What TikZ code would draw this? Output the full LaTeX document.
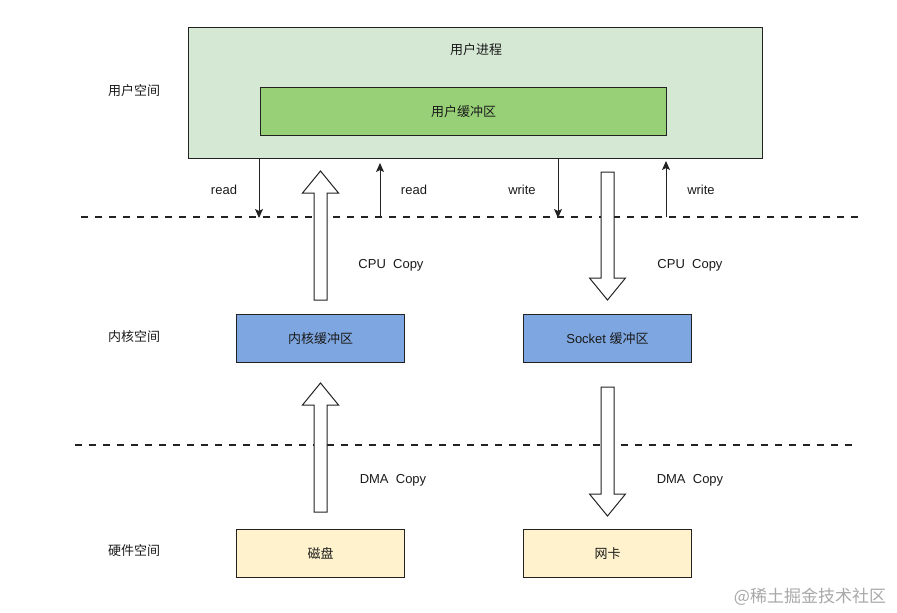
\documentclass[tikz,border=0pt]{standalone}
\usepackage{fontspec}
\setmainfont{Liberation Sans}
\newfontfamily\cjk{Noto Sans CJK SC}
\usetikzlibrary{calc,arrows.meta}
\definecolor{usrfill}{HTML}{D5E8D4}
\definecolor{bufgreen}{HTML}{97D077}
\definecolor{kblue}{HTML}{7EA6E0}
\definecolor{hwyellow}{HTML}{FFF2CC}
\definecolor{edge}{HTML}{222222}
\definecolor{txt}{HTML}{1A1A1A}
\definecolor{wmark}{HTML}{A8A8A8}
\newcommand{\blkarrow}[2]{%
  \draw[blockarr] let \p1=(#1), \p2=(#2), \n1={ifthenelse(\y2>\y1,1,-1)} in
  (\x1-6.5pt,\y1) -- (\x1-6.5pt,\y2-\n1*22pt) -- (\x1-18pt,\y2-\n1*22pt) -- (\x2,\y2)
  -- (\x1+18pt,\y2-\n1*22pt) -- (\x1+6.5pt,\y2-\n1*22pt) -- (\x1+6.5pt,\y1) -- cycle;}
\begin{document}
\begin{tikzpicture}[x=1pt,y=-1pt,
  font=\fontsize{13}{15}\selectfont, text=txt,
  box/.style={draw=edge, line width=1pt, inner sep=0pt, anchor=north west},
  lbl/.style={inner sep=0pt},
  sep/.style={line width=2pt, dash pattern=on 7pt off 7pt, draw=edge},
  thin/.style={line width=1pt, draw=edge, -{Stealth[length=9pt,width=8pt,inset=2pt]}},
  blockarr/.style={draw=edge, line width=1pt, fill=white, line join=miter}]
\useasboundingbox (0,0) rectangle (897,613);

% boxes
\node[box, fill=usrfill, minimum width=574pt, minimum height=131pt] (user) at (188,27) {};
\node[lbl] (usertitle) at (476,50) {\cjk 用户进程};
\node[box, fill=bufgreen, minimum width=406pt, minimum height=48pt] (ubuf) at (260,87) {};
\node[lbl] at (ubuf.center) {\cjk 用户缓冲区};

\node[box, fill=kblue, minimum width=168pt, minimum height=48pt] (kbuf) at (236,314) {};
\node[lbl] at (kbuf.center) {\cjk 内核缓冲区};
\node[box, fill=kblue, minimum width=168pt, minimum height=48pt] (sbuf) at (523,314) {};
\node[lbl] at (sbuf.center) {Socket {\cjk 缓冲区}};

\node[box, fill=hwyellow, minimum width=168pt, minimum height=48pt] (disk) at (236,529) {};
\node[lbl] at (disk.center) {\cjk 磁盘};
\node[box, fill=hwyellow, minimum width=168pt, minimum height=48pt] (nic) at (523,529) {};
\node[lbl] at (nic.center) {\cjk 网卡};

% space labels
\node[lbl] (lu) at (134,91) {\cjk 用户空间};
\node[lbl] (lk) at (134,337) {\cjk 内核空间};
\node[lbl] (lh) at (134,551) {\cjk 硬件空间};

% dashed separators
\coordinate (d1a) at (81,217);
\coordinate (d1b) at (858,217);
\coordinate (d2a) at (75,445);
\coordinate (d2b) at (852,445);
\draw[sep] (d1a) -- (d1b);
\draw[sep] (d2a) -- (d2b);

% thin arrows
\coordinate (r1) at (259,218);
\coordinate (r2) at (380,217);
\coordinate (w1) at (558,218);
\coordinate (w2) at (666,217);
\draw[thin] (user.south -| r1) -- (r1);
\draw[thin] (r2) -- ($(user.south -| r2)+(0,4)$);
\draw[thin] (user.south -| w1) -- (w1);
\draw[thin] (w2) -- ($(user.south -| w2)+(0,2)$);
\node[lbl] at (224,190) {read};
\node[lbl] at (414,190) {read};
\node[lbl] at (522,190) {write};
\node[lbl] at (701,190) {write};

% block arrows
\coordinate (a1b) at ($(kbuf.north)+(0,-14)$);
\coordinate (a1t) at ($(user.south -| kbuf.north)+(0,12)$);
\coordinate (a2t) at ($(user.south -| sbuf.north)+(0,13)$);
\coordinate (a2b) at ($(sbuf.north)+(0,-14)$);
\coordinate (a3b) at ($(disk.north)+(0,-17)$);
\coordinate (a3t) at ($(kbuf.south)+(0,20)$);
\coordinate (a4t) at ($(sbuf.south)+(0,24)$);
\coordinate (a4b) at ($(nic.north)+(0,-13)$);
\blkarrow{a1b}{a1t}
\blkarrow{a2t}{a2b}
\blkarrow{a3b}{a3t}
\blkarrow{a4t}{a4b}
\node[lbl] at (391,265) {CPU\ \ Copy};
\node[lbl] at (690,265) {CPU\ \ Copy};
\node[lbl] at (393,480) {DMA\ \ Copy};
\node[lbl] at (690,480) {DMA\ \ Copy};

% watermark
\node[lbl, text=wmark, font=\fontsize{17}{19}\selectfont] (wm) at (810,597) {\cjk @稀土掘金技术社区};
\end{tikzpicture}
\end{document}
